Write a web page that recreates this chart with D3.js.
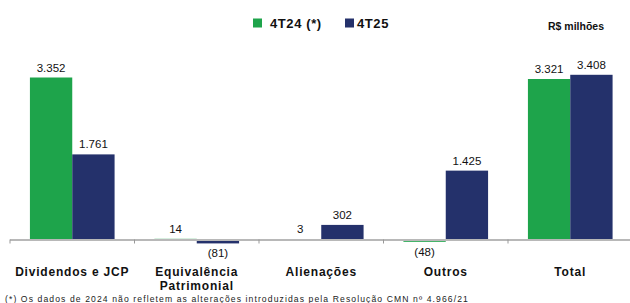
<!DOCTYPE html>
<html>
<head>
<meta charset="utf-8">
<script src="https://cdn.jsdelivr.net/npm/d3@7"></script>
<style>
  body { margin: 0; background: #fff; }
  svg { display: block; font-family: "Liberation Sans", Arial, sans-serif; }
</style>
</head>
<body>
<div id="chart"></div>
<script>
// Categories and values (R$ milhões)
const categories = ["Dividendos e JCP", "Equivalência Patrimonial", "Alienações", "Outros", "Total"];
const labelLines = [["Dividendos e JCP"], ["Equivalência", "Patrimonial"], ["Alienações"], ["Outros"], ["Total"]];
const series = ["4T24 (*)", "4T25"];
const values4T24 = [3352, 14, 3, -48, 3321];
const values4T25 = [1761, -81, 302, 1425, 3408];

const width = 630, height = 303;
const colors = ["#1ea44b", "#24316b"];

const svg = d3.select("#chart").append("svg")
    .attr("width", width)
    .attr("height", height);

const x = d3.scaleBand()
    .domain(categories)
    .range([10, 632.5])
    .paddingInner(0.32)
    .paddingOuter(0.16);

const xs = d3.scaleBand()
    .domain(series)
    .range([0, x.bandwidth()]);

const y = d3.scaleLinear()
    .domain([0, 3352])
    .range([239.5, 77.5]);

const locale = d3.formatLocale({decimal: ",", thousands: ".", grouping: [3], currency: ["R$", ""]});
const fmt = locale.format(",d");
const label = v => v < 0 ? `(${fmt(-v)})` : fmt(v);

const data = categories.flatMap((c, i) => [
    {cat: c, s: series[0], v: values4T24[i]},
    {cat: c, s: series[1], v: values4T25[i]}
]);

// bars
svg.append("g")
    .selectAll("rect")
    .data(data)
    .join("rect")
    .attr("x", d => x(d.cat) + xs(d.s))
    .attr("width", xs.bandwidth())
    .attr("y", d => Math.min(y(d.v), y(0)))
    .attr("height", d => Math.max(Math.abs(y(d.v) - y(0)), 1))
    .attr("fill", d => colors[series.indexOf(d.s)]);

// axis line + ticks
const axis = svg.append("g");
axis.append("line")
    .attr("x1", 10).attr("x2", width)
    .attr("y1", y(0) + 0.5).attr("y2", y(0) + 0.5)
    .attr("stroke", "#b8b8b8")
    .attr("stroke-width", 2);
axis.selectAll("line.tick")
    .data(d3.range(categories.length))
    .join("line")
    .attr("class", "tick")
    .attr("x1", i => x(categories[i]) - x.step() * 0.16)
    .attr("x2", i => x(categories[i]) - x.step() * 0.16)
    .attr("y1", y(0))
    .attr("y2", y(0) + 4)
    .attr("stroke", "#999")
    .attr("stroke-width", 1);

// value labels
svg.append("g")
    .selectAll("text")
    .data(data)
    .join("text")
    .attr("x", d => x(d.cat) + xs(d.s) + xs.bandwidth() / 2)
    .attr("y", d => d.v < 0 ? y(d.v) + 14 : y(d.v) - 6)
    .attr("text-anchor", "middle")
    .attr("font-size", 11.5)
    .attr("fill", "#111")
    .text(d => label(d.v));

// category labels (one text per line)
const lines = categories.flatMap((c, i) => labelLines[i].map((t, j) => ({c, t, j})));
svg.append("g")
    .selectAll("text")
    .data(lines)
    .join("text")
    .attr("x", d => x(d.c) + x.bandwidth() / 2)
    .attr("y", d => 276 + d.j * 13.5)
    .attr("text-anchor", "middle")
    .attr("font-size", 12)
    .attr("font-weight", "bold")
    .attr("letter-spacing", 0.8)
    .attr("fill", "#111")
    .text(d => d.t);

// legend
const legend = svg.append("g").attr("font-weight", "bold").attr("font-size", 13);
const legendX = [253, 345];
series.forEach((s, i) => {
    legend.append("rect")
        .attr("x", legendX[i]).attr("y", 18.5)
        .attr("width", 9).attr("height", 9)
        .attr("fill", colors[i]);
    legend.append("text")
        .attr("x", legendX[i] + (i === 0 ? 17 : 12))
        .attr("y", 28)
        .attr("letter-spacing", 0.6)
        .attr("fill", "#111")
        .text(s);
});

// unit
svg.append("text")
    .attr("x", 548).attr("y", 30)
    .attr("font-size", 10.5)
    .attr("font-weight", "bold")
    .attr("fill", "#111")
    .text("R$ milhões");

// footnote
svg.append("text")
    .attr("x", 5).attr("y", 301.5)
    .attr("font-size", 8.6)
    .attr("letter-spacing", 1.1)
    .attr("fill", "#222")
    .text("(*) Os dados de 2024 não refletem as alterações introduzidas pela Resolução CMN nº 4.966/21");
</script>
</body>
</html>
